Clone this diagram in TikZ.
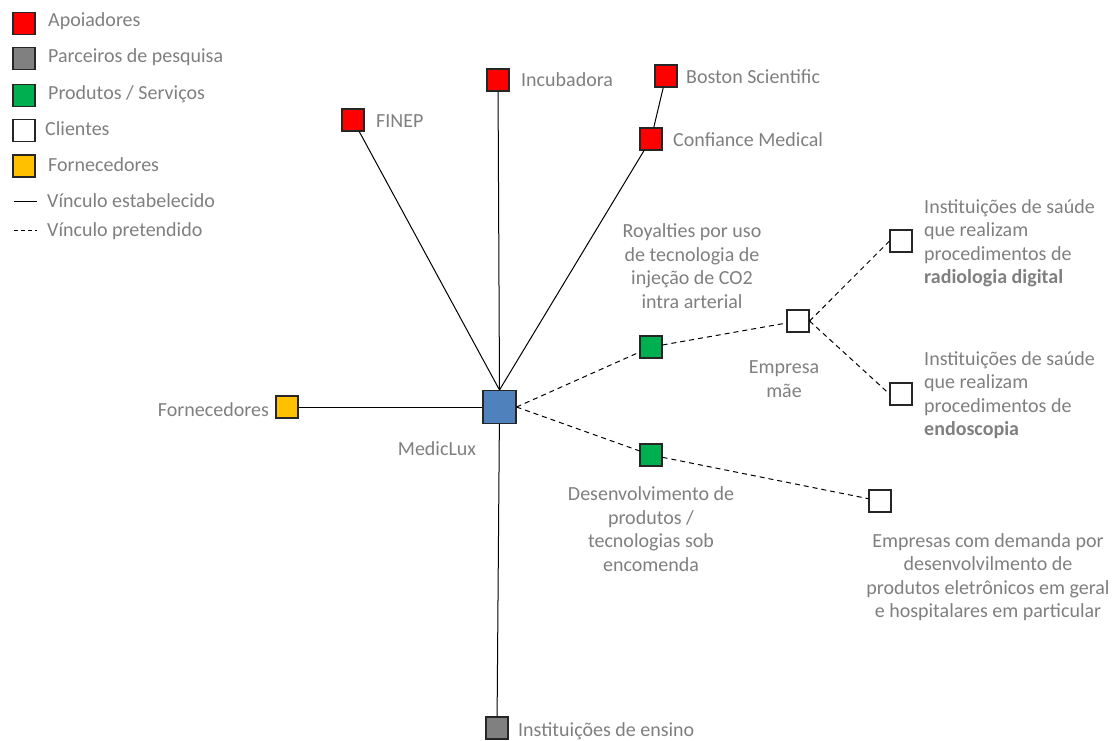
\documentclass[tikz,border=0pt]{standalone}
\usepackage{fontspec}
\setmainfont{Carlito}
\begin{document}
\definecolor{txt}{RGB}{127,127,127}
\definecolor{cred}{RGB}{255,0,0}
\definecolor{cgray}{RGB}{128,128,128}
\definecolor{cgreen}{RGB}{0,176,80}
\definecolor{cblue}{RGB}{79,129,189}
\definecolor{corange}{RGB}{255,192,0}
\begin{tikzpicture}[x=1pt,y=-1pt,
  box/.style={draw=black!85,line width=1.1pt,minimum size=22pt,inner sep=0pt},
  bigbox/.style={box,minimum size=33pt},
  lbl/.style={text=txt,font=\fontsize{20}{23.5}\selectfont,inner sep=0pt},
  firm/.style={line width=1pt,black},
  plan/.style={line width=1pt,black,dash pattern=on 5pt off 4pt}]
\useasboundingbox (0,0) rectangle (1116,740);

% legend
\node[box,fill=cred]    (l1) at (24,23.5) {};
\node[box,fill=cgray]   (l2) at (24,58.5) {};
\node[box,fill=cgreen]  (l3) at (24,95.5) {};
\node[box,fill=white]   (l4) at (24,130.5) {};
\node[box,fill=corange] (l5) at (24,166) {};
\node[lbl,anchor=west] (t1) at (48,21) {Apoiadores};
\node[lbl,anchor=west] (t2) at (48,57) {Parceiros de pesquisa};
\node[lbl,anchor=west] (t3) at (48,94) {Produtos / Serviços};
\node[lbl,anchor=west] (t4) at (45,129) {Clientes};
\node[lbl,anchor=west] (t5) at (48,165) {Fornecedores};
\coordinate (s1) at (14,201); \coordinate (s2) at (37,201);
\coordinate (d1) at (14,230); \coordinate (d2) at (37,230);
\draw[firm] (s1) -- (s2);
\draw[plan,dash pattern=on 4pt off 3pt] (d1) -- (d2);
\node[lbl,anchor=west] (t6) at (47,201) {Vínculo estabelecido};
\node[lbl,anchor=west] (t7) at (47,231) {Vínculo pretendido};

% nodes
\node[bigbox,fill=cblue] (med) at (499.5,407) {};
\node[box,fill=corange] (forn) at (287,407) {};
\node[box,fill=cred] (finep) at (353,120) {};
\node[box,fill=cred] (incub) at (498,80) {};
\node[box,fill=cred] (boston) at (666,76) {};
\node[box,fill=cred] (conf) at (651,139) {};
\node[box,fill=cgray] (ens) at (497,728) {};
\node[box,fill=cgreen] (roy) at (651,347) {};
\node[box,fill=cgreen] (dev) at (651,455) {};
\node[box,fill=white] (mae) at (798,321) {};
\node[box,fill=white] (rad) at (901,241) {};
\node[box,fill=white] (endo) at (901,394) {};
\node[box,fill=white] (emp) at (880,501) {};

% established links
\draw[firm] (med.north) -- (finep);
\draw[firm] (med.north) -- (incub);
\draw[firm] (med.north) -- (conf);
\draw[firm] (conf) -- (boston);
\draw[firm] (med) -- (forn);
\draw[firm] (med) -- (ens);

% intended links
\draw[plan] (med.east) -- (roy);
\draw[plan] (roy) -- (mae);
\draw[plan] (mae.east) -- (rad.west);
\draw[plan] (mae.east) -- (endo.west);
\draw[plan] (med.east) -- (dev);
\draw[plan] (dev) -- (emp);

% labels
\node[lbl,anchor=east] at (269,410) {Fornecedores};
\node[lbl] at (437,449) {MedicLux};
\node[lbl,anchor=west] at (376,121) {FINEP};
\node[lbl,anchor=west] at (521,80) {Incubadora};
\node[lbl,anchor=west] at (686,77) {Boston Scientific};
\node[lbl,anchor=west] at (673,140) {Confiance Medical};
\node[lbl,anchor=west] at (518,731) {Instituições de ensino};
\node[lbl,align=center] at (692,266) {Royalties por uso\\de tecnologia de\\injeção de CO2\\intra arterial};
\node[lbl,align=center] at (784,379) {Empresa\\mãe};
\node[lbl,align=left,anchor=west] at (924,243) {Instituições de saúde\\que realizam\\procedimentos de\\\textbf{radiologia digital}};
\node[lbl,align=left,anchor=west] at (924,395) {Instituições de saúde\\que realizam\\procedimentos de\\\textbf{endoscopia}};
\node[lbl,align=center] at (651,529) {Desenvolvimento de\\produtos /\\tecnologias sob\\encomenda};
\node[lbl,align=center] at (988,577) {Empresas com demanda por\\desenvolvilmento de\\produtos eletrônicos em geral\\e hospitalares em particular};
\end{tikzpicture}
\end{document}
